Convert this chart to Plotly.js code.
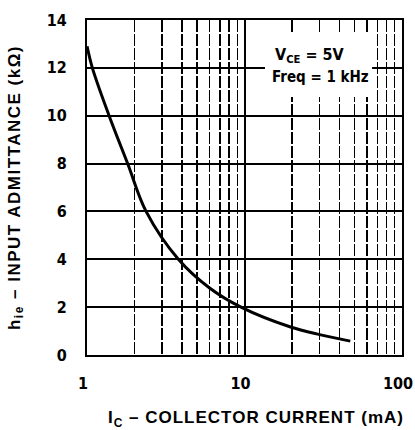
<!DOCTYPE html>
<html>
<head>
<meta charset="utf-8">
<script src="https://cdn.plot.ly/plotly-3.0.1.min.js"></script>
<style>
html,body{margin:0;padding:0;background:#fff;}
#chart{width:415px;height:430px;}
.ytitle{letter-spacing:1.5px;}
</style>
</head>
<body>
<div id="chart"></div>
<script>
// Collector current (mA)
var collectorCurrent = [1, 1.08, 1.38, 1.81, 2.37, 3.8, 6, 9.5, 19.4, 30, 47];
// Input admittance h_ie (kΩ)
var inputAdmittance = [12.9, 12, 10, 8, 6, 4, 2.8, 2, 1.18, 0.85, 0.58];
var xTickVals = [1, 10, 100];
var xTickText = ['1', '10', '100'];
var yTickVals = [0, 2, 4, 6, 8, 10, 12, 14];

var FONT = '"Liberation Sans Narrow", "DejaVu Sans Condensed", "Liberation Sans", sans-serif';
var tickFont = {family: FONT, size: 16, color: '#000', weight: 'bold'};
var titleFont = {family: '"Liberation Sans", "DejaVu Sans", sans-serif', size: 17, color: '#000', weight: 'bold'};

var trace = {
  x: collectorCurrent,
  y: inputAdmittance,
  type: 'scatter',
  mode: 'lines',
  line: {color: '#000', width: 3, shape: 'spline', smoothing: 1},
  hoverinfo: 'skip'
};

var layout = {
  width: 415, height: 430,
  margin: {l: 87, r: 13, t: 20, b: 75},
  paper_bgcolor: '#fff', plot_bgcolor: '#fff',
  showlegend: false,
  xaxis: {
    type: 'log', range: [-0.0005, 2.0005],
    tickmode: 'array', tickvals: xTickVals, ticktext: xTickText,
    ticks: 'outside', ticklen: 1, tickcolor: 'rgba(0,0,0,0)',
    ticklabelstandoff: 12, ticklabeloverflow: 'allow', ticklabelshift: -4,
    tickfont: tickFont,
    showgrid: true, gridcolor: '#000', gridwidth: 2,
    minor: {dtick: 'D1', showgrid: true, gridcolor: '#000', gridwidth: 1.5, griddash: '12px,2px'},
    showline: true, linecolor: '#000', linewidth: 2, mirror: true,
    zeroline: false
  },
  yaxis: {
    range: [0, 14],
    tickmode: 'array', tickvals: yTickVals,
    ticks: 'outside', ticklen: 1, tickcolor: 'rgba(0,0,0,0)',
    ticklabelstandoff: 14,
    tickfont: tickFont,
    showgrid: true, gridcolor: '#000', gridwidth: 2,
    showline: true, linecolor: '#000', linewidth: 2, mirror: true,
    zeroline: false,
    title: {text: 'h<sub>ie</sub> – INPUT ADMITTANCE (kΩ)', font: titleFont, standoff: 22}
  },
  shapes: [{
    type: 'rect', xref: 'paper', yref: 'paper',
    x0: 0.565, x1: 0.905, y0: 0.77, y1: 0.961,
    fillcolor: '#fff', line: {width: 0}, layer: 'above'
  }],
  annotations: [
    {xref: 'paper', yref: 'paper', x: 0.708, y: 0.893, xanchor: 'center', yanchor: 'middle',
     text: 'V<sub>CE</sub> = 5V',
     showarrow: false, font: {family: FONT, size: 16, color: '#000', weight: 'bold'}},
    {xref: 'paper', yref: 'paper', x: 0.74, y: 0.83, xanchor: 'center', yanchor: 'middle',
     text: 'Freq = 1 kHz',
     showarrow: false, font: {family: FONT, size: 15, color: '#000', weight: 'bold'}},
    {xref: 'paper', yref: 'paper', x: 0.535, y: -0.19, xanchor: 'center', yanchor: 'middle',
     text: '<span style="letter-spacing:1px">I<sub>C</sub> – COLLECTOR CURRENT (mA)</span>',
     showarrow: false, font: titleFont}
  ]
};

Plotly.newPlot('chart', [trace], layout, {staticPlot: true, displayModeBar: false});
</script>
</body>
</html>
